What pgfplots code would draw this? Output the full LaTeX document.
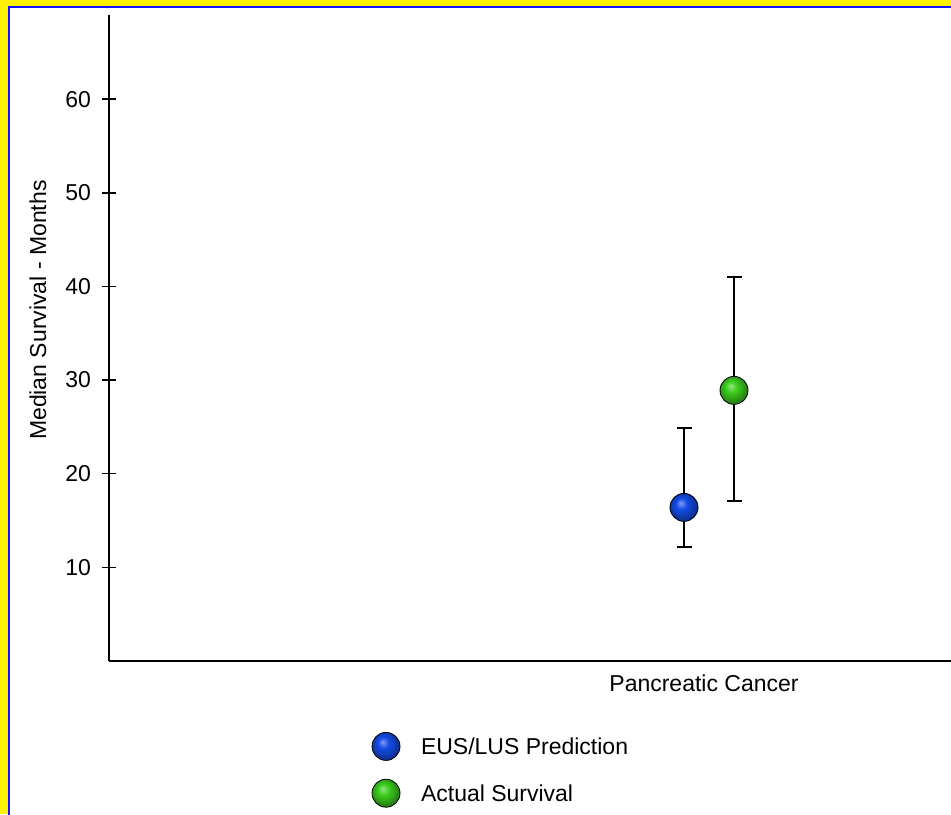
\documentclass[border=0pt]{standalone}
\usepackage{pgfplots}
\pgfplotsset{compat=1.18}
\usepackage{fontspec}
\setmainfont{Liberation Sans}
\makeatletter
\pgfdeclareradialshading[tikz@ball]{ball}{\pgfqpoint{-6bp}{8bp}}{%
 color(0bp)=(tikz@ball!55!white);
 color(10bp)=(tikz@ball);
 color(19bp)=(tikz@ball!80!black);
 color(25bp)=(tikz@ball!65!black);
 color(50bp)=(tikz@ball!65!black)}
\makeatother
\definecolor{eusblue}{RGB}{20,75,230}
\definecolor{actgreen}{RGB}{60,205,30}
\definecolor{frameblue}{RGB}{20,20,255}
\begin{document}
\begin{tikzpicture}[x=0.5pt,y=0.5pt]
\useasboundingbox (0,0) rectangle (951,814);
\clip (0,0) rectangle (951,814);
\fill[yellow] (0,0) rectangle (951,814);
\fill[white] (9,-10) rectangle (960,807);
\draw[frameblue, line width=1pt] (9,-10) -- (9,807) -- (960,807);
\begin{axis}[
  at={(109,163.5)}, anchor=south west,
  scale only axis, width=421pt, height=323pt,
  xmin=109, xmax=951, ymin=0, ymax=69,
  axis x line=bottom, axis y line=left,
  axis line style={-, line width=1pt, black},
  ytick={10,20,30,40,50,60},
  tick align=center, major tick length=7pt,
  ytick style={line width=0.8pt, black},
  yticklabel style={xshift=-2pt},
  xtick={704}, xticklabels={Pancreatic Cancer},
  xtick style={draw=none},
  tick label style={font=\fontsize{11.5}{13}\selectfont},
  /pgf/number format/assume math mode=true,
  ylabel={Median Survival - Months},
  every axis y label/.style={at={(axis description cs:-0.0843,0.543)}, rotate=90, anchor=center, font=\fontsize{11.5}{13}\selectfont},
  clip=false,
  legend style={at={(axis description cs:0.3088,-0.1100)}, anchor=north west, draw=none, fill=none,
    inner sep=0pt, outer sep=0pt, row sep=9pt, column sep=9pt,
    nodes={inner sep=0pt, text height=8.5pt, text depth=2.5pt},
    font=\fontsize{11.5}{13}\selectfont},
  legend cell align=left,
  legend image code/.code={\path[draw=none,fill=none] (0pt,-6pt) rectangle (17pt,8pt); \draw[#1] plot coordinates {(8.5pt,1pt)};},
]
\addplot[only marks, mark=ball, mark size=7pt, mark options={ball color=eusblue, draw=none},
  error bars/.cd, y dir=both, y explicit, error mark=-,
  error mark options={rotate=90, line width=1pt, mark size=3.75pt, black},
  error bar style={line width=1pt, black}]
  coordinates {(684,16.4) += (0,8.5) -= (0,4.2)};
\addlegendentry{EUS/LUS Prediction}
\addplot[only marks, mark=ball, mark size=7pt, mark options={ball color=actgreen, draw=none},
  error bars/.cd, y dir=both, y explicit, error mark=-,
  error mark options={rotate=90, line width=1pt, mark size=3.75pt, black},
  error bar style={line width=1pt, black}]
  coordinates {(734,28.9) += (0,12.1) -= (0,11.8)};
\addlegendentry{Actual Survival}
\end{axis}
\end{tikzpicture}
\end{document}
